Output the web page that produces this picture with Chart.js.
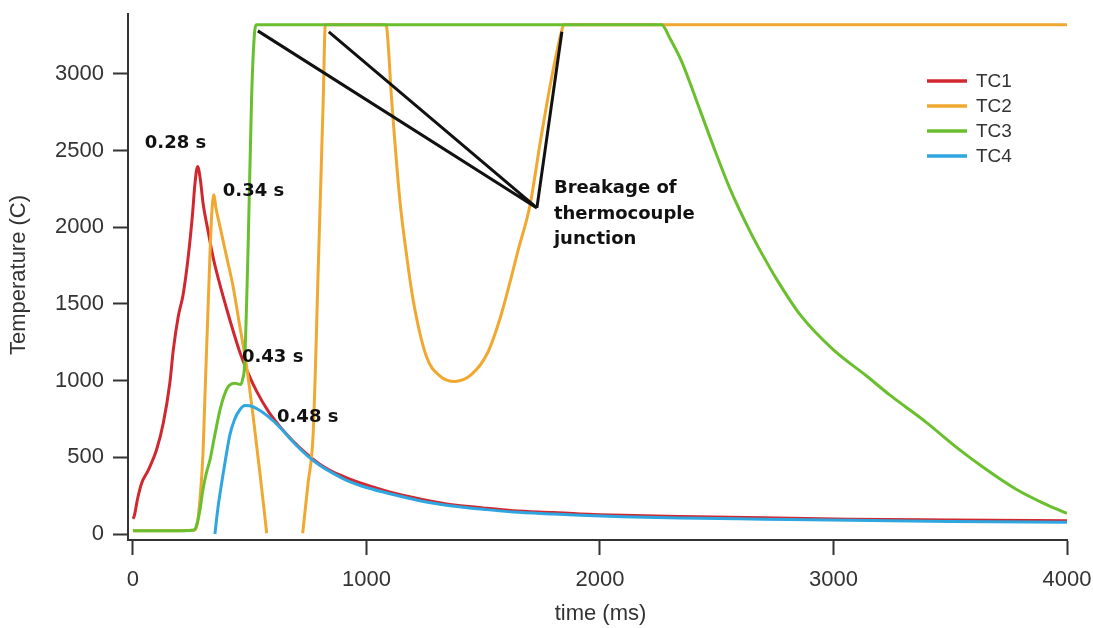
<!DOCTYPE html>
<html><head><meta charset="utf-8">
<script src="https://cdn.jsdelivr.net/npm/chart.js@4.4.0/dist/chart.umd.min.js"></script>
<style>html,body{margin:0;padding:0;background:#fff;}#c{display:block;}</style>
</head><body>
<canvas id="c" width="1093" height="628"></canvas>
<script>
// ---- tick labels ----
const xTickValues = [0, 1000, 2000, 3000, 4000];
const yTickValues = [0, 500, 1000, 1500, 2000, 2500, 3000];
const seriesNames = ['TC1', 'TC2', 'TC3', 'TC4'];

// ---- series (time in ms, temperature in C) ----
const tc1Time = [0,5,20,37,66,101,130,158,173,194,215,237,255,266,277,288,301,320,344,370,401,430,458,490,530,580,630,680,744,800,850,929,1000,1129,1250,1343,1500,1629,1800,1914,2100,2343,2700,3071,3500,4000];
const tc1Temp = [100,113,230,330,417,548,722,983,1200,1417,1560,1808,2080,2288,2396,2320,2150,1990,1800,1640,1470,1320,1185,1060,930,800,700,615,522,455,410,358,320,262,222,196,170,152,140,131,122,115,106,97,92,87];

const tc2Time = [0,100,200,260,273,287,300,308,323,337,347,355,373,401,429,458,487,515,544,573,650,727,750,772,794,815,824,1000,1080,1086,1108,1143,1169,1200,1257,1315,1380,1450,1520,1575,1621,1650,1700,1745,1790,1836,1845,2500,3000,3500,4000];
const tc2Temp = [22,22,22,24,48,222,520,874,1526,2070,2211,2130,2004,1809,1613,1352,1091,765,396,5,null,5,330,657,1750,2830,3320,3320,3320,3307,2830,2178,1852,1526,1157,1030,995,1040,1185,1420,1678,1852,2140,2560,2950,3280,3320,3320,3320,3320,3320];

const tc3Time = [0,100,200,250,265,280,287,300,315,330,350,373,390,408,425,437,450,462,470,478,493,508,520,530,1000,2000,2264,2300,2350,2428,2490,2557,2642,2700,2757,2857,3000,3142,3242,3400,3527,3650,3784,3900,4000];
const tc3Temp = [22,22,22,24,30,100,156,290,400,483,640,809,900,961,980,983,978,975,1010,1100,1850,2830,3250,3320,3320,3320,3320,3230,3080,2765,2510,2250,1975,1810,1660,1430,1200,1030,905,725,565,425,290,200,135];

const tc4Time = [351,365,380,398,415,435,458,480,500,544,580,630,680,744,800,858,915,1000,1129,1250,1343,1500,1629,1800,1914,2100,2343,2700,3071,3500,4000];
const tc4Temp = [0,180,332,500,645,745,810,838,836,805,765,695,610,515,448,395,350,303,252,210,187,161,143,130,122,113,105,97,89,82,76];

// ---- annotation pointer lines (data coordinates) ----
const pointerTime = [535, 1730, 839];
const pointerTemp = [3280, 2126, 3274];
const pointer2Time = [1730, 1837];
const pointer2Temp = [2126, 3274];

// ---- annotation texts ----
const peakLabels = ['0.28 s', '0.34 s', '0.43 s', '0.48 s'];
const peakLabelTime = [51, 385, 467, 617];
const peakLabelTemp = [2550, 2237, 1154, 763];
const noteLines = ['Breakage of', 'thermocouple', 'junction'];
const noteTime = 1803;
const noteTemp = [2255, 2085, 1922];

const colors = ['#d0282e', '#f0a830', '#6abf2e', '#2fa6df'];
const axisColor = '#333333';

function pts(xs, ys) { return xs.map((x, i) => ({ x: x, y: ys[i] })); }

const lineBase = { pointRadius: 0, borderWidth: 3, fill: false, cubicInterpolationMode: 'monotone', spanGaps: false, borderJoinStyle: 'round' };

const datasets = [
  Object.assign({ label: seriesNames[0], data: pts(tc1Time, tc1Temp), borderColor: colors[0], order: 5 }, lineBase),
  Object.assign({ label: seriesNames[1], data: pts(tc2Time, tc2Temp), borderColor: colors[1], order: 4 }, lineBase),
  Object.assign({ label: seriesNames[2], data: pts(tc3Time, tc3Temp), borderColor: colors[2], order: 3 }, lineBase),
  Object.assign({ label: seriesNames[3], data: pts(tc4Time, tc4Temp), borderColor: colors[3], order: 2 }, lineBase),
  { label: '_ptr1', data: pts(pointerTime, pointerTemp), borderColor: '#111', borderWidth: 3, pointRadius: 0, tension: 0, order: 0, borderJoinStyle: 'miter' },
  { label: '_ptr2', data: pts(pointer2Time, pointer2Temp), borderColor: '#111', borderWidth: 3, pointRadius: 0, tension: 0, order: 0 }
];

const overlay = {
  id: 'overlay',
  afterDatasetsDraw(chart) {
    const ctx = chart.ctx, sx = chart.scales.x, sy = chart.scales.y;
    ctx.save();
    ctx.fillStyle = '#111';
    ctx.font = 'bold 18px "DejaVu Sans"';
    ctx.textAlign = 'left';
    ctx.textBaseline = 'middle';
    peakLabels.forEach((t, i) => ctx.fillText(t, sx.getPixelForValue(peakLabelTime[i]), sy.getPixelForValue(peakLabelTemp[i])));
    noteLines.forEach((t, i) => ctx.fillText(t, sx.getPixelForValue(noteTime), sy.getPixelForValue(noteTemp[i])));
    // legend
    ctx.font = '19px "Liberation Sans"';
    ctx.fillStyle = axisColor;
    chart.data.datasets.forEach((ds, i) => {
      if (ds.label.startsWith('_')) return;
      const y = 81 + i * 25;
      ctx.strokeStyle = ds.borderColor;
      ctx.lineWidth = 3.5;
      ctx.beginPath(); ctx.moveTo(927, y); ctx.lineTo(967, y); ctx.stroke();
      ctx.fillText(ds.label, 976, y + 1);
    });
    // axis titles
    ctx.font = '22px "Liberation Sans"';
    ctx.fillStyle = axisColor;
    ctx.textAlign = 'center';
    ctx.fillText('time (ms)', (chart.chartArea.left + chart.chartArea.right) / 2 + 3, 614);
    ctx.translate(19, 275);
    ctx.rotate(-Math.PI / 2);
    ctx.fillText('Temperature (C)', 0, 0);
    ctx.restore();
  }
};

new Chart(document.getElementById('c'), {
  type: 'line',
  data: { datasets: datasets },
  options: {
    responsive: false,
    animation: false,
    devicePixelRatio: 1,
    layout: { padding: { top: 14, right: 26, bottom: 0, left: 0 } },
    plugins: { legend: { display: false }, tooltip: { enabled: false } },
    scales: {
      x: {
        type: 'linear', min: -21, max: 4000,
        afterBuildTicks: s => { s.ticks = xTickValues.map(v => ({ value: v })); },
        afterFit: s => { s.height = 88; s.paddingLeft = 0; s.paddingRight = 0; },
        ticks: { callback: v => String(v), font: { family: 'Liberation Sans', size: 22 }, color: axisColor, padding: 12, maxRotation: 0, autoSkip: false },
        grid: { drawOnChartArea: false, drawTicks: true, tickLength: 15, tickWidth: 2, tickColor: axisColor },
        border: { display: true, color: axisColor, width: 2 }
      },
      y: {
        type: 'linear', min: -39, max: 3390,
        afterBuildTicks: s => { s.ticks = yTickValues.map(v => ({ value: v })); },
        afterFit: s => { s.width = 128; s.paddingTop = 0; s.paddingBottom = 0; },
        ticks: { callback: v => String(v), font: { family: 'Liberation Sans', size: 22 }, color: axisColor, padding: 9, autoSkip: false },
        grid: { drawOnChartArea: false, drawTicks: true, tickLength: 15, tickWidth: 2, tickColor: axisColor },
        border: { display: true, color: axisColor, width: 2 }
      }
    }
  },
  plugins: [overlay]
});
</script>
</body></html>
